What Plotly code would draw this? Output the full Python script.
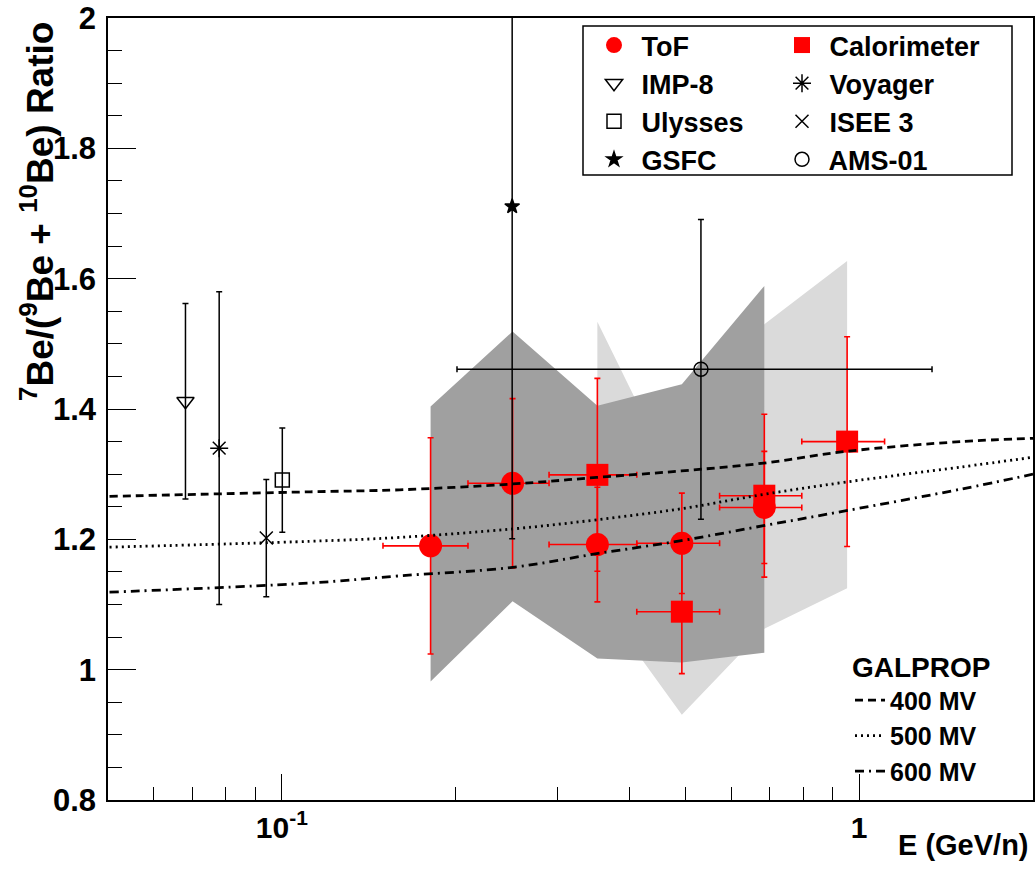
import numpy as np
import plotly.graph_objects as go

# ---------------- data ----------------
# ToF (red circles)
tof_E = [0.181, 0.251, 0.352, 0.493, 0.685]
tof_E_lo = [0.1497, 0.2101, 0.2903, 0.4119, 0.5731]
tof_E_hi = [0.2101, 0.2903, 0.4119, 0.5731, 0.7954]
tof_ratio = [1.190, 1.286, 1.192, 1.194, 1.249]
tof_err = [0.166, 0.130, 0.088, 0.077, 0.086]
tof_sys_hi = [1.404, 1.519, 1.405, 1.438, 1.589]
tof_sys_lo = [0.982, 1.105, 1.017, 1.011, 1.026]

# Calorimeter (red squares)
cal_E = [0.352, 0.493, 0.685, 0.953]
cal_E_lo = [0.2903, 0.4119, 0.5731, 0.7954]
cal_E_hi = [0.4119, 0.5731, 0.7954, 1.1066]
cal_ratio = [1.299, 1.089, 1.267, 1.350]
cal_err = [0.148, 0.095, 0.125, 0.161]
cal_sys_hi = [1.534, 1.270, 1.530, 1.627]
cal_sys_lo = [1.110, 0.931, 1.063, 1.125]

# other experiments: (E, ratio, err)
imp8_E, imp8_R, imp8_err = [0.0681], [1.412], [0.150]
voy_E, voy_R, voy_err = [0.0779], [1.340], [0.240]
isee_E, isee_R, isee_err = [0.0940], [1.202], [0.090]
uly_E, uly_R, uly_err = [0.1002], [1.291], [0.080]
gsfc_E, gsfc_R, gsfc_err = [0.2506], [1.711], [0.510]
ams_E, ams_R, ams_err = [0.532], [1.461], [0.230]
ams_E_lo, ams_E_hi = [0.2011], [1.337]

# GALPROP curves
gal_E = [0.0503, 0.112, 0.160, 0.251, 0.351, 0.492, 0.683, 0.950, 1.50, 2.0]
gal_400 = [1.266, 1.273, 1.276, 1.285, 1.295, 1.305, 1.317, 1.335, 1.350, 1.355]
gal_500 = [1.188, 1.197, 1.203, 1.216, 1.230, 1.247, 1.269, 1.288, 1.311, 1.326]
gal_600 = [1.119, 1.133, 1.144, 1.157, 1.178, 1.198, 1.221, 1.244, 1.277, 1.300]

# ---------------- layout helpers ----------------
# body margin is removed (post_script), so figure pixels == window pixels
W, H = 1036, 871
L, R, T, B = 108, 1033, 18, 800   # plot-area edges in window pixels


def px_x(p):
    return (p - L) / (R - L)


def px_y(p):
    return (B - p) / (B - T)


FONT = "Liberation Sans, Arial, Helvetica, sans-serif"
RED = "#ff0000"

fig = go.Figure()


def band(x, lo, hi, color):
    xs = list(x) + list(x)[::-1]
    ys = list(hi) + list(lo)[::-1]
    return go.Scatter(x=xs, y=ys, fill="toself", fillcolor=color, mode="lines",
                      line=dict(width=0, color=color), showlegend=False,
                      hoverinfo="skip")

fig.add_trace(band(cal_E, cal_sys_lo, cal_sys_hi, "#dadada"))
fig.add_trace(band(tof_E, tof_sys_lo, tof_sys_hi, "#a0a0a0"))


def xerr(x, lo, hi):
    x = np.array(x); lo = np.array(lo); hi = np.array(hi)
    return dict(type="data", symmetric=False, array=list(hi - x),
                arrayminus=list(x - lo))

# red data
fig.add_trace(go.Scatter(
    x=tof_E, y=tof_ratio, mode="markers", name=" ToF", legend="legend",
    marker=dict(symbol="circle", size=23, color=RED),
    error_y=dict(type="data", array=tof_err, color=RED, thickness=1.6, width=3),
    error_x=dict(**xerr(tof_E, tof_E_lo, tof_E_hi), color=RED, thickness=1.6, width=3),
))
fig.add_trace(go.Scatter(
    x=cal_E, y=cal_ratio, mode="markers", name=" Calorimeter", legend="legend2",
    marker=dict(symbol="square", size=22, color=RED),
    error_y=dict(type="data", array=cal_err, color=RED, thickness=1.6, width=3),
    error_x=dict(**xerr(cal_E, cal_E_lo, cal_E_hi), color=RED, thickness=1.6, width=3),
))


def black_pt(x, y, err, name, symbol, size, legend, ex=None):
    d = dict(x=x, y=y, mode="markers", name=name, legend=legend,
             marker=dict(symbol=symbol, size=size, color="black",
                         line=dict(color="black", width=1.5)),
             error_y=dict(type="data", array=err, color="black", thickness=1.5, width=3))
    if ex is not None:
        d["error_x"] = dict(**ex, color="black", thickness=1.5, width=3)
    return go.Scatter(**d)

fig.add_trace(black_pt(imp8_E, imp8_R, imp8_err, " IMP-8", "triangle-down-open", 15, "legend"))
fig.add_trace(black_pt(voy_E, voy_R, voy_err, " Voyager", "asterisk-open", 15, "legend2"))
fig.add_trace(black_pt(uly_E, uly_R, uly_err, " Ulysses", "square-open", 14, "legend"))
fig.add_trace(black_pt(isee_E, isee_R, isee_err, " ISEE 3", "x-thin-open", 13, "legend2"))
fig.add_trace(black_pt(gsfc_E, gsfc_R, gsfc_err, " GSFC", "star", 11, "legend"))
fig.add_trace(black_pt(ams_E, ams_R, ams_err, " AMS-01", "circle-open", 14, "legend2",
                       ex=xerr(ams_E, ams_E_lo, ams_E_hi)))

# GALPROP curves
for yv, nm, dash in [(gal_400, "400 MV", "8px,5px"),
                     (gal_500, "500 MV", "2px,4px"),
                     (gal_600, "600 MV", "9px,5px,2px,5px")]:
    fig.add_trace(go.Scatter(x=gal_E, y=yv, mode="lines", name=nm, legend="legend3",
                             line=dict(color="black", width=2.8, dash=dash, shape="spline"),
                             hoverinfo="skip"))

leg_common = dict(bgcolor="rgba(0,0,0,0)", borderwidth=0, tracegroupgap=0,
                  xanchor="left", yanchor="top", itemsizing="trace")
legfont = dict(family=FONT, size=27, color="black", weight="bold")

fig.update_layout(
    width=W, height=H,
    margin=dict(l=L, r=W - R, t=T, b=H - B, autoexpand=False),
    paper_bgcolor="white", plot_bgcolor="white",
    showlegend=True,
    legend=dict(x=px_x(594), y=px_y(21), font=legfont, **leg_common),
    legend2=dict(x=px_x(782), y=px_y(21), font=legfont, **leg_common),
    legend3=dict(x=px_x(850), y=px_y(641),
                 font=dict(family=FONT, size=25, color="black", weight="bold"),
                 title=dict(text="GALPROP", side="top",
                            font=dict(family=FONT, size=28, color="black", weight="bold")),
                 **leg_common),
    xaxis=dict(type="log", range=[np.log10(0.05), np.log10(2.0)], automargin=False,
               tickmode="array", tickvals=[0.1, 1], ticktext=["10<sup>-1</sup>", "1"],
               ticks="inside", ticklen=26, tickwidth=1.3, tickcolor="black",
               minor=dict(tickmode="array",
                          tickvals=[0.06, 0.07, 0.08, 0.09, 0.2, 0.3, 0.4, 0.5,
                                    0.6, 0.7, 0.8, 0.9, 2.0],
                          ticks="inside", ticklen=13, tickwidth=1.3, tickcolor="black"),
               showline=True, linecolor="black", linewidth=1.5, mirror=True,
               showgrid=False, zeroline=False, ticklabeloverflow="allow",
               tickfont=dict(family=FONT, size=30, color="black", weight="bold")),
    yaxis=dict(range=[0.8, 2.0001], tickmode="linear", tick0=0.8, dtick=0.2,
               automargin=False,
               ticks="inside", ticklen=28, tickwidth=1.3, tickcolor="black",
               minor=dict(dtick=0.05, tick0=0.8, ticks="inside", ticklen=14, tickwidth=1.3,
                          tickcolor="black"),
               showline=True, linecolor="black", linewidth=1.5, mirror=True,
               showgrid=False, zeroline=False, ticklabelstandoff=4,
               ticklabeloverflow="allow",
               tickfont=dict(family=FONT, size=31, color="black", weight="bold")),
    shapes=[dict(type="rect", xref="paper", yref="paper",
                 x0=px_x(583), x1=px_x(1012), y0=px_y(175), y1=px_y(26),
                 line=dict(color="black", width=1.5), fillcolor="rgba(0,0,0,0)")],
    annotations=[
        dict(text="<sup>7</sup>Be/(<sup>9</sup>Be + <sup>10</sup>Be) Ratio",
             xref="paper", yref="paper", x=px_x(37), y=px_y(212),
             xanchor="center", yanchor="middle", textangle=-90, showarrow=False,
             font=dict(family=FONT, size=37, color="black", weight="bold")),
        dict(text="E (GeV/n)", xref="paper", yref="paper", x=px_x(1031), y=px_y(845),
             xanchor="right", yanchor="middle", showarrow=False,
             font=dict(family=FONT, size=29, color="black", weight="bold")),
    ],
)

fig.write_html("out.html",
               config={"displayModeBar": False},
               post_script="document.body.style.margin='0px';"
                           "document.body.style.overflow='hidden';")
